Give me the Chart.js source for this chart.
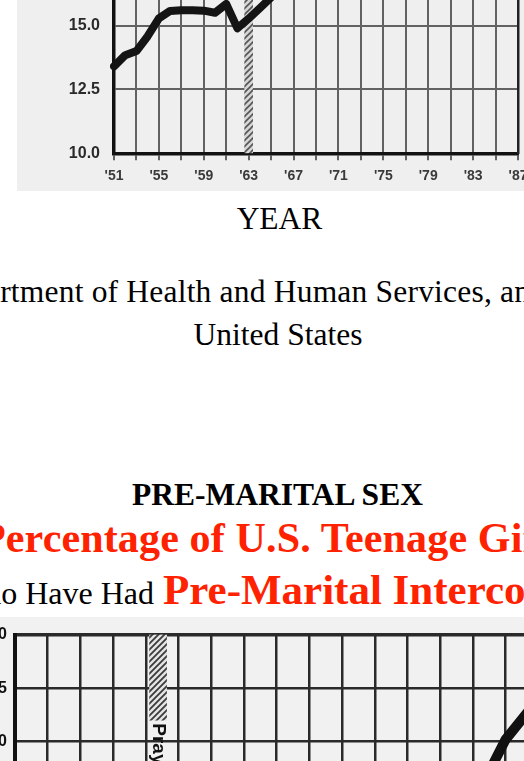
<!DOCTYPE html>
<html><head><meta charset="utf-8">
<script src="https://cdn.jsdelivr.net/npm/chart.js@4/dist/chart.umd.min.js"></script>
<style>
html,body{margin:0;padding:0;background:#fff;width:524px;height:761px;overflow:hidden;position:relative;}
.t{position:absolute;white-space:nowrap;font-family:"Liberation Serif","Times New Roman",serif;line-height:1;color:#000;margin:0;font-size:31.5px}
.c{text-align:center}
.b{font-weight:bold}
.red{color:#ff2200;font-weight:bold}
#c1{position:absolute;left:17px;top:-130px;background:#efefef}
#c2{position:absolute;left:-40px;top:617px;background:#f1f1f1}
</style></head><body>
<canvas id="c1" width="540" height="321"></canvas>
<div class="t c" style="left:0;width:559px;top:202.6px">YEAR</div>
<div class="t" style="left:-132px;top:275.6px;letter-spacing:0.2px">U.S. Department of Health and Human Services, and</div>
<div class="t c" style="left:0;width:556px;top:318.6px">United States</div>
<div class="t c b" style="left:0;width:555px;top:479.3px">PRE-MARITAL SEX</div>
<div class="t red" style="left:-20px;top:516.5px;font-size:42px;letter-spacing:0.15px">Percentage of U.S. Teenage Girls</div>
<div class="t" style="left:-45px;top:576.7px;font-size:32px">Who Have Had</div>
<div class="t red" style="left:163px;top:567.5px;font-size:43px">Pre-Marital Intercourse</div>
<canvas id="c2" width="631" height="700"></canvas>
<script>
// ---- Chart A (upper, partly visible) ----
const yearsA = ["'51","'52","'53","'54","'55","'56","'57","'58","'59","'60","'61","'62","'63","'64","'65","'66","'67","'68","'69","'70","'71","'72","'73","'74","'75","'76","'77","'78","'79","'80","'81","'82","'83","'84","'85","'86","'87"];
const valuesA = [13.4,13.84,14.0,14.58,15.28,15.57,15.6,15.6,15.58,15.5,15.84,14.89,15.27,15.68,16.1,16.6,null,null,null,null,null,null,null,null,null,null,null,null,null,null,null,null,null,null,null,null,null];
const prayerYearA = "'63";
const prayerRangeA = [10, 20];
const yTicksA = [10, 12.5, 15, 17.5, 20];

// ---- Chart B (lower, partly visible) ----
const yearsB = [1982, 1984, 1986];
const valuesB = [44.2, 50.2, 54.0];
const prayerYearB = 1962.75;
const prayerRangeB = [52, 60];
const prayerLabelB = 'Prayer Removed';
const yTicksB = [0,5,10,15,20,25,30,35,40,45,50,55,60];

function hatch(bg, fg, lw){
  const p=document.createElement('canvas'); p.width=6; p.height=6;
  const g=p.getContext('2d');
  g.fillStyle=bg; g.fillRect(0,0,6,6);
  g.strokeStyle=fg; g.lineWidth=lw;
  g.beginPath();
  g.moveTo(0,6); g.lineTo(6,0);
  g.moveTo(-3,3); g.lineTo(3,-3);
  g.moveTo(3,9); g.lineTo(9,3);
  g.stroke();
  return g.createPattern(p,'repeat');
}
const sans = "'Liberation Sans', Arial, sans-serif";

new Chart(document.getElementById('c1'), {
  type:'line',
  data:{labels:yearsA, datasets:[
    {type:'line', data:valuesA, borderColor:'#141414', borderWidth:8, pointRadius:0, tension:0,
     borderJoinStyle:'round', borderCapStyle:'round', order:0},
    {type:'bar', data:yearsA.map(y => y===prayerYearA ? prayerRangeA : null),
     backgroundColor:hatch('#d6d6d6','#555',1.6), barThickness:8, grouped:false, order:1}
  ]},
  options:{
    responsive:false, animation:false, events:[],
    layout:{padding:{top:27.7,right:39,bottom:0,left:0}},
    plugins:{legend:{display:false}, tooltip:{enabled:false}},
    scales:{
      x:{type:'category', offset:false,
         grid:{offset:false, color:c=>c.index%2===0?'#626262':'rgba(0,0,0,0)', lineWidth:2, tickLength:7, drawTicks:true},
         border:{color:'#111', width:3.5},
         ticks:{autoSkip:false, maxRotation:0, minRotation:0, padding:7, color:'#3a3a3a',
                font:{family:sans, weight:'bold', size:14},
                callback:(v,i)=> i%4===0 ? yearsA[i] : ''},
         afterFit:s=>{s.height=37.7}},
      y:{min:yTicksA[0], max:yTicksA[yTicksA.length-1],
         afterBuildTicks:s=>{s.ticks=yTicksA.map(v=>({value:v}))},
         ticks:{padding:14, color:'#2a2a2a', font:{family:sans, weight:'bold', size:16}, callback:v=>Number(v).toFixed(1)},
         grid:{color:'#626262', lineWidth:2, drawTicks:false},
         border:{color:'#111', width:3.5},
         afterFit:s=>{s.width=97}},
      y2:{position:'right', min:10, max:20,
          grid:{display:false, drawTicks:false}, ticks:{display:false},
          border:{color:'#222', width:2.5}, afterFit:s=>{s.width=0}}
    }
  }
});

const labelPlugin = {
  id:'prayerLabel',
  afterDatasetsDraw(chart){
    const {ctx, scales:{x, y}} = chart;
    const px = x.getPixelForValue(prayerYearB);
    const py = y.getPixelForValue(prayerRangeB[0]);
    ctx.save();
    ctx.translate(px, py+3);
    ctx.rotate(Math.PI/2);
    ctx.font = "bold 19px " + sans;
    ctx.fillStyle = '#111';
    ctx.textBaseline = 'middle';
    ctx.textAlign = 'left';
    ctx.fillText(prayerLabelB, 0, 0);
    ctx.restore();
  }
};

new Chart(document.getElementById('c2'), {
  type:'line',
  data:{datasets:[
    {type:'line', data:yearsB.map((yr,i)=>({x:yr, y:valuesB[i]})), borderColor:'#111', borderWidth:10,
     pointRadius:0, tension:0, borderCapStyle:'round', order:0},
    {type:'bar', data:[{x:prayerYearB, y:prayerRangeB}], backgroundColor:hatch('#e4e4e4','#3a3a3a',1.8),
     barThickness:17, grouped:false, order:1}
  ]},
  options:{
    responsive:false, animation:false, events:[],
    layout:{padding:{top:15,right:20,bottom:0,left:0}},
    plugins:{legend:{display:false}, tooltip:{enabled:false}},
    scales:{
      x:{type:'linear', min:1954, max:1988, offset:false,
         grid:{offset:false, color:'#2a2a2a', lineWidth:2.5, drawTicks:true, tickLength:7},
         border:{color:'#111', width:4},
         ticks:{stepSize:2, color:'#333', font:{family:sans, weight:'bold', size:15},
                callback:v=> (v%4===2) ? "'"+String(v).slice(2) : ''},
         afterFit:s=>{s.height=40}},
      y:{min:yTicksB[0], max:yTicksB[yTicksB.length-1],
         afterBuildTicks:s=>{s.ticks=yTicksB.map(v=>({value:v}))},
         ticks:{padding:8, color:'#111', font:{family:sans, weight:'bold', size:16}},
         grid:{color:'#2a2a2a', lineWidth:c=> c.tick && c.tick.value===60 ? 3.5 : 2.5, drawTicks:false},
         border:{color:'#111', width:4},
         afterFit:s=>{s.width=55}}
    }
  },
  plugins:[labelPlugin]
});
</script>
</body></html>
